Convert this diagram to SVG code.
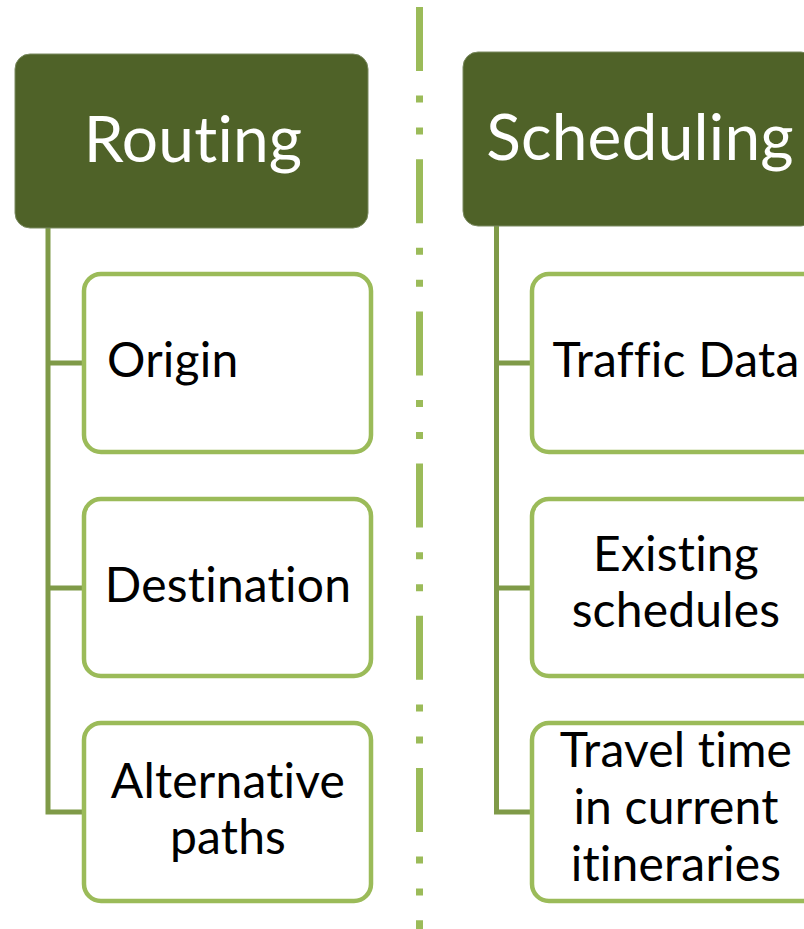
<svg xmlns="http://www.w3.org/2000/svg" width="804" height="929" viewBox="0 0 804 929">
<style>
.hdr{fill:#4F6228;stroke:#7a8a60;stroke-width:1}
.box{fill:#fff;stroke:#9BBB59;stroke-width:4.5}
.conn{fill:none;stroke:#7F9A48;stroke-width:5}
text{font-variant-ligatures:none;font-feature-settings:"liga" 0,"clig" 0,"dlig" 0;letter-spacing:0.2px}
.ht{font-family:Lato,"Liberation Sans",sans-serif;font-size:64px;fill:#fff;text-anchor:middle}
.ct{font-family:Lato,"Liberation Sans",sans-serif;font-size:48px;fill:#000;text-anchor:middle}
</style>
<rect width="804" height="929" fill="#fff"/>
<line x1="419.5" y1="7" x2="419.5" y2="929" stroke="#9BBB59" stroke-width="7" stroke-dasharray="64 24.6 7 25 7 24.6"/>
<g id="connectors">
<path class="conn" d="M48 228 V812 H84 M48 363 H84 M48 588 H84"/>
<path class="conn" d="M496.5 226 V812 H532 M496.5 363 H532 M496.5 588 H532"/>
</g>
<g id="routing">
<rect class="hdr" x="15" y="54" width="353" height="174" rx="15"/>
<text class="ht" x="193" y="162">Routing</text>
</g>
<g id="origin">
<rect class="box" x="84" y="274" width="287" height="178" rx="17"/>
<text class="ct" x="107" y="377" style="text-anchor:start">Origin</text>
</g>
<g id="destination">
<rect class="box" x="84" y="499" width="287" height="177" rx="17"/>
<text class="ct" x="228" y="602">Destination</text>
</g>
<g id="alternative">
<rect class="box" x="84" y="723" width="287" height="178" rx="17"/>
<text class="ct" x="228" y="798">Alternative</text>
<text class="ct" x="228" y="854">paths</text>
</g>
<g id="scheduling">
<rect class="hdr" x="463" y="52" width="353" height="174" rx="15"/>
<text class="ht" x="640" y="160">Scheduling</text>
</g>
<g id="traffic">
<rect class="box" x="532" y="274" width="287" height="178" rx="17"/>
<text class="ct" x="676" y="377">Traffic Data</text>
</g>
<g id="existing">
<rect class="box" x="532" y="499" width="287" height="177" rx="17"/>
<text class="ct" x="676" y="571">Existing</text>
<text class="ct" x="676" y="627">schedules</text>
</g>
<g id="travel">
<rect class="box" x="532" y="723" width="287" height="178" rx="17"/>
<text class="ct" x="676" y="767">Travel time</text>
<text class="ct" x="676" y="824">in current</text>
<text class="ct" x="676" y="881">itineraries</text>
</g>
</svg>
